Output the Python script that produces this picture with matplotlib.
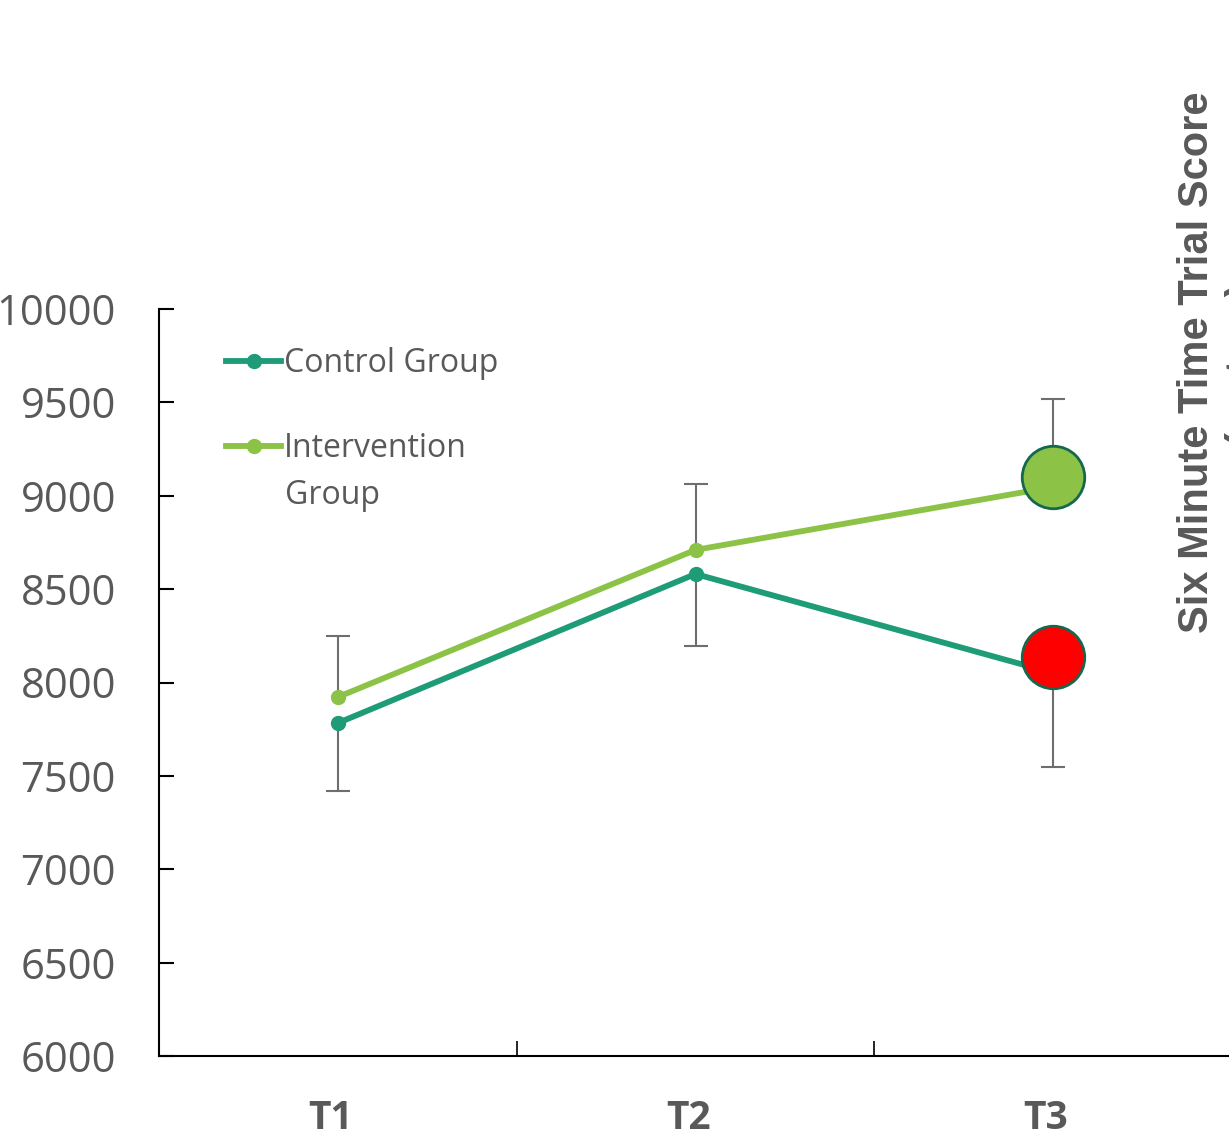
import matplotlib
matplotlib.use("Agg")
import matplotlib.pyplot as plt
from matplotlib.lines import Line2D

categories = ["T1", "T2", "T3"]
control = [7783, 8581, 8051]
intervention = [7922, 8710, 9047]
highlight_control_t3 = 8137
highlight_intervention_t3 = 9100
control_err_low = [7419, 8195, 7548]
intervention_err_high = [8249, 9063, 9518]
yticks = [6000, 6500, 7000, 7500, 8000, 8500, 9000, 9500, 10000]

C_CTRL = "#1e9b77"
C_INT = "#8cc246"
GRAY = "#595959"
EGRAY = "#6e6e6e"
FONT = ["Open Sans", "DejaVu Sans"]

fig = plt.figure(figsize=(12.29, 11.38), dpi=100)
W, H = 1229, 1138
ax = fig.add_axes([159 / W, (H - 1056) / H, 1073 / W, 747 / H])

x = [1, 2, 3]
ax.plot(x, control, color=C_CTRL, lw=4.2, marker="o", ms=10, zorder=3,
        solid_capstyle="round")
ax.plot(x, intervention, color=C_INT, lw=4.2, marker="o", ms=10, zorder=3,
        solid_capstyle="round")

# one-sided error bars: intervention upward, control downward
int_base = intervention[:2] + [highlight_intervention_t3]
ctrl_base = control[:2] + [highlight_control_t3]
ax.vlines(x, int_base, intervention_err_high, color=EGRAY, lw=1.5, zorder=2)
ax.vlines(x, control_err_low, ctrl_base, color=EGRAY, lw=1.5, zorder=2)
ax.plot(x, intervention_err_high, ls="none", marker="_", ms=17, mew=1.5,
        color=EGRAY, zorder=2)
ax.plot(x, control_err_low, ls="none", marker="_", ms=17, mew=1.5,
        color=EGRAY, zorder=2)

ax.plot([3], [highlight_intervention_t3], marker="o", ms=45, color=C_INT,
        mec="#14684e", mew=2, zorder=5, ls="none")
ax.plot([3], [highlight_control_t3], marker="o", ms=45, color="#ff0000",
        mec="#14684e", mew=2, zorder=5, ls="none")

ax.set_xlim(0.5, 3.5)
ax.set_ylim(6000, 10000)
ax.set_yticks(yticks)
ax.set_yticklabels([str(v) for v in yticks], fontsize=30, color=GRAY,
                   family=FONT)
ax.tick_params(axis="y", direction="in", length=11, width=1.5, pad=31)
ax.set_xticks([1.5, 2.5])
ax.set_xticklabels([])
ax.tick_params(axis="x", direction="in", length=11, width=1.2)
for i, c in enumerate(categories):
    ax.text(x[i] - 0.02, -0.083, c, transform=ax.get_xaxis_transform(),
            ha="center", va="center", fontsize=28, fontweight="bold",
            color=GRAY, family=FONT)

for s in ["top", "right"]:
    ax.spines[s].set_visible(False)
ax.spines["left"].set_linewidth(1.5)
ax.spines["bottom"].set_linewidth(1.5)

handles = [
    Line2D([], [], color=C_CTRL, lw=4.2, marker="o", ms=10),
    Line2D([], [], color=C_INT, lw=4.2, marker="o", ms=10),
]
leg = ax.legend(handles, ["Control Group", "Intervention"],
                loc="upper left", bbox_to_anchor=(0.036, 0.988), frameon=False,
                handlelength=1.7, handletextpad=0.1, labelspacing=1.65,
                prop={"family": FONT, "size": 23})
for t in leg.get_texts():
    t.set_color(GRAY)
fig.text(285 / W, 1 - 496 / H, "Group", ha="left", va="center",
         fontsize=23, color=GRAY, family=FONT)

fig.text(1197 / W, 1 - 362 / H, "Six Minute Time Trial Score",
         rotation=90, ha="center", va="center", fontsize=30,
         fontweight="bold", color=GRAY, family=["Liberation Sans", "DejaVu Sans"])
fig.text(1243 / W, 1 - 362 / H, "(meters)",
         rotation=90, ha="center", va="center", fontsize=30,
         fontweight="bold", color=GRAY, family=["Liberation Sans", "DejaVu Sans"])

fig.savefig("out.png", dpi=100)
